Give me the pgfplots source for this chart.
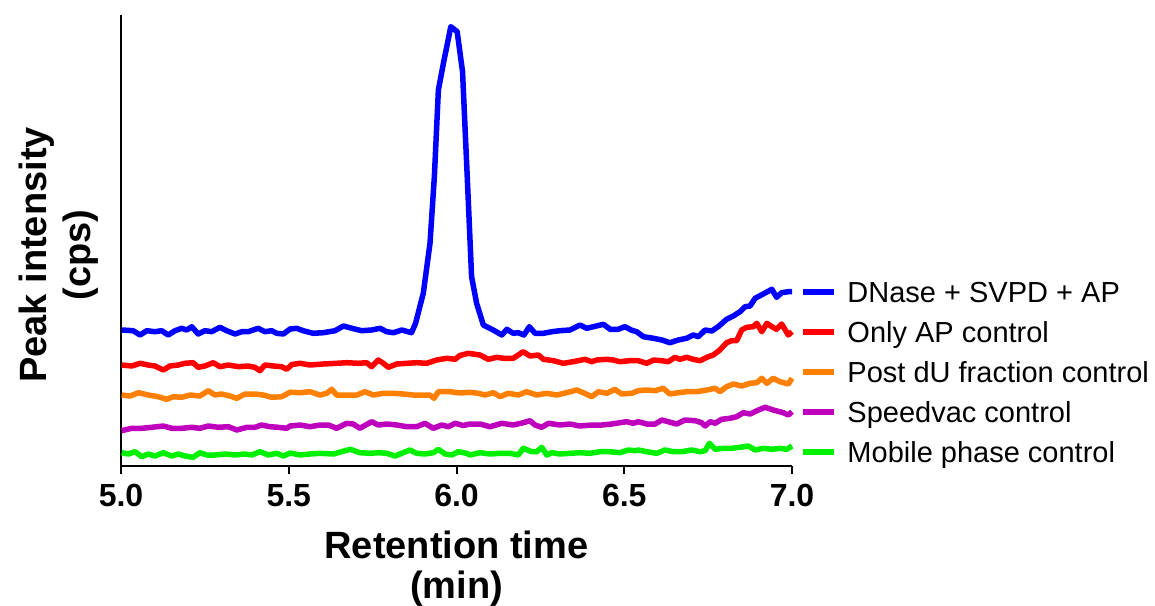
\documentclass[border=0pt]{standalone}
\usepackage{fontspec}
\setmainfont{Liberation Sans}
\usepackage{pgfplots}
\usepackage{pgfplotstable}
\pgfplotsset{compat=1.18}

\definecolor{cBlue}{RGB}{0,0,255}
\definecolor{cRed}{RGB}{255,0,0}
\definecolor{cOrange}{RGB}{255,128,0}
\definecolor{cPurple}{RGB}{190,0,190}
\definecolor{cGreen}{RGB}{0,240,0}

% Extracted ion chromatograms, retention time (min) vs. intensity (arbitrary scale)
\pgfplotstableread{
t v
5.002 136
5.036 135.3
5.057 131
5.077 135.3
5.101 134.3
5.121 135.3
5.141 131
5.161 135.3
5.181 137.7
5.196 136
5.211 139.3
5.230 132
5.250 135.3
5.270 134.3
5.295 138.7
5.315 135.3
5.340 132
5.360 134.3
5.379 134.3
5.409 137.7
5.429 134.3
5.449 135.3
5.464 132.7
5.484 132
5.504 137
5.524 137.7
5.543 135.3
5.573 132.7
5.603 133.3
5.638 135.3
5.663 140
5.688 137.7
5.717 135.3
5.747 136
5.772 137.7
5.792 134.3
5.812 133.3
5.837 136
5.866 133.3
5.878 142.7
5.901 172.7
5.921 222.7
5.934 289.3
5.946 376
5.961 402.7
5.983 439.3
6.002 434.3
6.018 394.3
6.032 289.3
6.045 189.3
6.060 162.7
6.080 141
6.105 136.8
6.135 131
6.150 136.7
6.169 132.7
6.184 133.3
6.201 131
6.217 139.3
6.234 132.7
6.259 132.7
6.284 134.3
6.308 135.3
6.338 136
6.368 141
6.388 137.7
6.408 139.3
6.438 141.7
6.458 136.7
6.482 136.7
6.502 139.3
6.522 135.8
6.537 134.3
6.557 129.3
6.587 127.7
6.612 126
6.636 123.3
6.661 126
6.686 127.7
6.706 131
6.721 129.3
6.741 136
6.761 135
6.780 139.3
6.805 146.7
6.825 150
6.845 154.3
6.860 159.3
6.875 160
6.890 167.7
6.914 172
6.940 176.7
6.954 168.7
6.969 173.3
6.989 174.3
7.000 174.3
}\dnase

\pgfplotstableread{
t v
5.002 101
5.032 100
5.057 102.7
5.081 101
5.101 100
5.126 96
5.146 100
5.171 101
5.191 102.7
5.215 103.3
5.230 98.7
5.250 100
5.275 103.3
5.295 99.3
5.320 101
5.350 99.3
5.379 100
5.399 98.7
5.414 95.3
5.429 101
5.454 100
5.479 99.3
5.494 96.7
5.509 101.5
5.534 102.7
5.563 101
5.603 102
5.643 102.7
5.673 103.3
5.707 102.7
5.732 103.3
5.747 99.3
5.767 106
5.782 102.7
5.797 98.7
5.822 102
5.852 102.7
5.881 103.3
5.911 102.7
5.941 106
5.971 107.7
5.996 106.7
6.010 110.5
6.035 112.7
6.070 111
6.095 106.7
6.120 108.7
6.140 107.7
6.169 107.7
6.199 114.3
6.219 110
6.244 111
6.259 106.7
6.289 105.3
6.318 102.7
6.348 104.3
6.383 106.7
6.403 104.3
6.418 106
6.448 106.7
6.467 106
6.487 104.3
6.522 105.5
6.542 105.3
6.567 102.7
6.587 106
6.612 105.3
6.631 104.3
6.651 108.7
6.666 106.7
6.686 108.7
6.706 106.7
6.726 105.3
6.746 108.7
6.765 111
6.785 116
6.805 123.3
6.820 125.3
6.835 125.3
6.850 136
6.865 138.7
6.885 139.3
6.895 142.7
6.910 134.3
6.925 142.7
6.940 139.3
6.954 136.7
6.969 142
6.989 131
7.000 134.3
}\onlyap

\pgfplotstableread{
t v
5.002 71
5.027 70
5.052 73.3
5.081 71
5.111 69.3
5.136 66.7
5.156 69.3
5.181 68.7
5.206 71
5.235 70
5.260 75.3
5.280 71
5.300 72
5.325 70
5.345 67.7
5.370 72
5.399 72
5.424 71
5.449 68.7
5.479 69.3
5.504 73.8
5.534 73.3
5.563 74.3
5.593 71
5.613 72.7
5.628 76.7
5.643 71
5.673 71
5.703 71
5.727 74.3
5.752 71
5.782 72.7
5.812 72.7
5.841 72
5.871 71
5.901 71
5.921 71
5.933 67.7
5.946 74.3
5.981 74.3
6.010 73
6.040 73.7
6.065 72.7
6.085 71
6.110 73.3
6.130 69.3
6.154 72.7
6.184 71
6.209 74.3
6.239 71
6.269 72.7
6.299 71
6.328 73.3
6.358 76
6.378 73.3
6.403 69.3
6.423 74.3
6.448 72.7
6.472 76.7
6.492 72
6.522 72.7
6.542 75.3
6.567 76
6.592 75.3
6.616 77.7
6.636 72
6.661 73.3
6.686 74.3
6.716 74.3
6.746 76
6.771 77.7
6.785 74.3
6.805 79.3
6.825 82
6.850 80
6.875 82.7
6.895 83.3
6.910 87.7
6.925 82.7
6.944 87.7
6.964 84.3
6.989 82
7.000 87.7
}\postdu

\pgfplotstableread{
t v
5.002 35.3
5.032 37.7
5.062 37.7
5.092 38.7
5.126 40
5.151 37.7
5.181 37.7
5.211 38.7
5.235 37.7
5.260 40
5.290 38.7
5.320 39.3
5.345 36
5.375 38.7
5.399 38.7
5.419 41
5.444 39.3
5.469 38.7
5.494 37.7
5.504 40
5.534 41
5.563 39.3
5.593 41
5.618 41
5.643 37.7
5.673 42.7
5.692 42
5.712 37.7
5.747 44.3
5.767 41
5.792 42
5.822 41
5.852 39.3
5.881 39.3
5.906 42.7
5.931 37.7
5.956 41
5.976 39.3
5.996 42.7
6.020 40.5
6.040 42
6.070 42
6.100 39.3
6.135 42.7
6.169 41
6.199 43.3
6.219 45.3
6.234 41
6.254 38.7
6.274 42.7
6.308 41
6.338 42
6.368 40
6.403 41
6.433 41
6.463 42
6.487 43.3
6.507 44.3
6.527 42.7
6.542 44.3
6.567 42
6.592 42
6.612 46
6.631 44.3
6.656 42
6.681 46
6.711 45.3
6.731 43.3
6.741 40
6.756 44.3
6.771 42.7
6.790 46.7
6.815 47.7
6.835 49.3
6.855 53.3
6.875 52
6.900 56
6.920 58.7
6.944 56
6.974 53.3
6.989 51
7.000 54.3
}\speedvac

\pgfplotstableread{
t v
5.002 13.3
5.022 12
5.042 14.3
5.062 9.3
5.081 12
5.101 10
5.126 13.3
5.151 10
5.171 12
5.191 10
5.215 8.7
5.235 13.3
5.255 11
5.280 11
5.310 12
5.340 11
5.370 12
5.390 11
5.414 14.3
5.439 11
5.464 12.7
5.484 10
5.504 13
5.534 11
5.563 12
5.593 12.7
5.633 12
5.658 14.3
5.683 16.7
5.712 13.3
5.742 12.7
5.767 13.3
5.792 12.7
5.817 10
5.841 13.3
5.861 16
5.881 12.7
5.906 12
5.931 13.3
5.946 16.7
5.966 12
5.986 11
6.005 14.3
6.030 12.7
6.040 11
6.070 13.3
6.100 12
6.130 12.7
6.159 12.7
6.184 11
6.199 17.7
6.224 14.3
6.239 14.3
6.254 18.7
6.269 11
6.284 13.3
6.308 12
6.338 12.7
6.368 13.3
6.398 12.7
6.428 14.3
6.458 14.3
6.487 13.3
6.512 16
6.532 15.3
6.542 16
6.567 14.3
6.597 12.7
6.621 16
6.646 14.3
6.671 14.3
6.701 16
6.726 14.3
6.741 15.3
6.754 22.7
6.771 16.7
6.795 17.7
6.820 17.7
6.845 18.7
6.870 20
6.890 16
6.914 17.7
6.940 16.7
6.964 17.7
6.984 16.7
7.000 20
}\mobile

\begin{document}
\begin{tikzpicture}
\begin{axis}[
  scale only axis,
  width=671pt, height=451pt,
  xmin=5, xmax=7, ymin=0, ymax=451,
  axis x line*=bottom, axis y line*=left,
  axis line style={line width=2pt, -},
  xtick={5,5.5,6,6.5,7}, ytick=\empty,
  tick align=outside, major tick length=8pt,
  tick style={line width=2pt, black},
  xticklabel style={font=\fontsize{32}{32}\selectfont\bfseries, inner sep=0pt, yshift=-10pt},
  /pgf/number format/.cd, fixed, fixed zerofill, precision=1, assume math mode=true, /pgfplots/.cd,
  xlabel={Retention time\\(min)},
  xlabel style={font=\fontsize{38}{40}\selectfont\bfseries, align=center,
    at={(axis description cs:0.5,0)}, anchor=north, inner sep=0pt, yshift=-65pt},
  ylabel={Peak intensity\\(cps)},
  ylabel style={font=\fontsize{38}{44}\selectfont\bfseries, align=center,
    at={(axis description cs:-0.034,0.468)}, anchor=south, inner sep=0pt},
  clip=false,
  every axis plot/.append style={line width=5.5pt, line join=round},
  legend cell align=left,
  legend image code/.code={\draw[#1, line width=5.5pt] (0pt,0pt) -- (31pt,0pt);},
  legend style={draw=none, fill=none, inner sep=0pt, outer sep=0pt,
    at={(axis description cs:1.0119,0.2084)}, anchor=west,
    font=\fontsize{29}{31}\selectfont,
    nodes={inner sep=0pt, text height=26pt, text depth=6pt},
    row sep=8pt, column sep=11pt},
]
\addplot[cBlue] table[x=t, y=v] {\dnase};
\addlegendentry{DNase + SVPD + AP}
\addplot[cRed] table[x=t, y=v] {\onlyap};
\addlegendentry{Only AP control}
\addplot[cOrange] table[x=t, y=v] {\postdu};
\addlegendentry{Post dU fraction control}
\addplot[cPurple] table[x=t, y=v] {\speedvac};
\addlegendentry{Speedvac control}
\addplot[cGreen] table[x=t, y=v] {\mobile};
\addlegendentry{Mobile phase control}
\coordinate (O) at (axis cs:5,0);
\end{axis}
\pgfresetboundingbox
\path[use as bounding box] (O) ++(-121pt,-139pt) rectangle ++(1155pt,605pt);
\end{tikzpicture}
\end{document}
